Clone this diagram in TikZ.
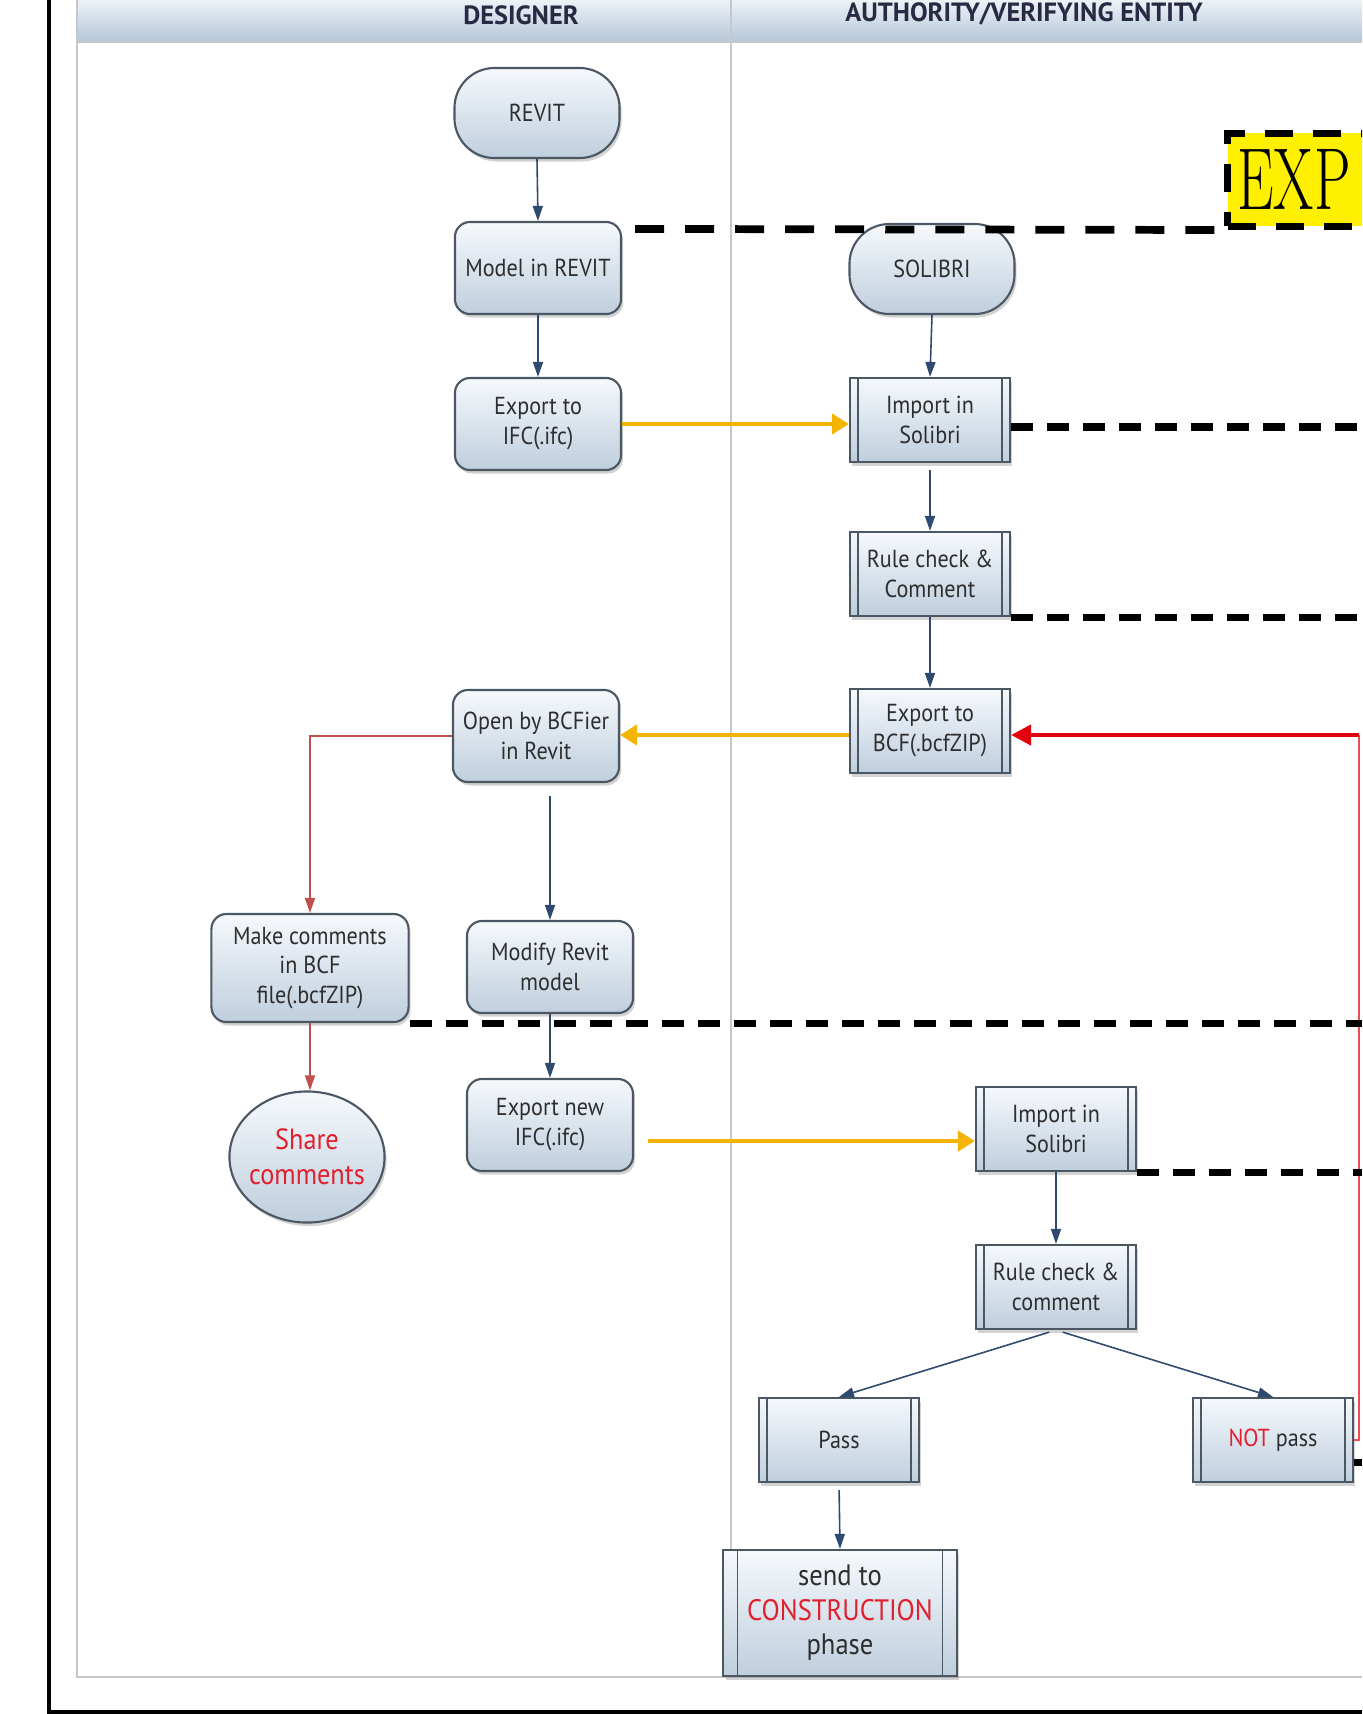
\documentclass[tikz,border=0pt]{standalone}
\usepackage{fontspec}
\usepackage{graphicx}
\newfontfamily\boxfont[FakeStretch=0.9]{PT Sans}
\newfontfamily\headfont{PT Sans}
\usetikzlibrary{arrows.meta,shadows,shapes.geometric,calc}
\definecolor{boxtop}{HTML}{F6F9FC}
\definecolor{boxbot}{HTML}{BFCEDD}
\definecolor{boxline}{HTML}{4B5763}
\definecolor{headtop}{HTML}{EDF2F7}
\definecolor{headbot}{HTML}{B4C6D8}
\definecolor{lanegray}{HTML}{C4C8CC}
\definecolor{navy}{HTML}{2E4A6E}
\definecolor{flowyellow}{HTML}{F4B400}
\definecolor{flowred}{HTML}{E3000F}
\definecolor{softred}{HTML}{C0504D}
\definecolor{textred}{HTML}{E0202E}
\definecolor{textgray}{HTML}{2E2E2E}
\definecolor{expyellow}{HTML}{FFF000}

\begin{document}
\begin{tikzpicture}[x=0.01cm,y=-0.01cm,
    box/.style={draw=boxline,line width=0.6pt,top color=boxtop,bottom color=boxbot,
      drop shadow={shadow xshift=0.6pt,shadow yshift=-1pt,opacity=0.35},
      text=textgray,font=\boxfont\fontsize{7}{8.5}\selectfont,align=center,inner sep=0pt},
    terminal/.style={box,rectangle,rounded corners=0.4cm,minimum width=1.65cm,minimum height=0.9cm},
    process/.style={box,rectangle,rounded corners=0.15cm,minimum width=1.66cm,minimum height=0.92cm},
    predef/.style={box,rectangle,minimum width=1.6cm,minimum height=0.84cm,
      path picture={\draw[boxline,line width=0.5pt]
        ([xshift=#1]path picture bounding box.north west) -- ([xshift=#1]path picture bounding box.south west)
        ([xshift=-#1]path picture bounding box.north east) -- ([xshift=-#1]path picture bounding box.south east);}},
    predef/.default=0.08cm,
    lanehead/.style={text=textgray!90!blue,font=\headfont\bfseries\fontsize{7.5}{9}\selectfont},
    navyarrow/.style={navy,line width=0.45pt,-{Triangle[length=1.5mm,width=1mm]}},
    ifcarrow/.style={flowyellow,line width=1.2pt,-{Triangle[length=1.7mm,width=2mm]}},
    redarrow/.style={flowred,line width=1.3pt,-{Triangle[length=2mm,width=2mm]}},
    commentarrow/.style={softred,line width=0.45pt,-{Triangle[length=1.5mm,width=1mm]}},
    linkline/.style={black,line width=2pt,dash pattern=on 0.22cm off 0.14cm}]

    \useasboundingbox (0,0) rectangle (1362,1714);
    \clip (0,0) rectangle (1362,1714);

    % lanes
    \shade[top color=headtop,bottom color=headbot] (77,0) rectangle (1362,42);
    \draw[lanegray,line width=0.6pt] (77,0) -- (77,1677) -- (1362,1677);
    \draw[lanegray,line width=0.6pt] (77,42) -- (1362,42);
    \draw[lanegray,line width=0.6pt] (731,0) -- (731,1677);
    \draw[black,line width=0.9pt] (49,0) -- (49,1712) -- (1362,1712);
    \node[lanehead] (designer) at (521,15) {DESIGNER};
    \node[lanehead] (authority) at (1024,14) {AUTHORITY/VERIFYING ENTITY};
    \coordinate (rim) at (1362,0);
    \coordinate (turn) at (1359,735);

    \node[terminal] (revit) at (537,113) {REVIT};
    \node[process] (model) at (538,268) {Model in REVIT};
    \node[process] (ifc) at (538,424) {Export to\\IFC(.ifc)};
    \node[terminal] (solibri) at (932,269) {SOLIBRI};
    \node[predef] (import) at (930,420) {Import in\\Solibri};
    \node[predef] (check) at (930,574) {Rule check \&\\Comment};
    \node[predef] (bcf) at (930,731) {Export to\\BCF(.bcfZIP)};
    \node[process] (bcfier) at (536,736) {Open by BCFier\\in Revit};
    \node[process,minimum width=1.97cm,minimum height=1.08cm] (comments) at (310,968) {Make comments\\in BCF\\file(.bcfZIP)};
    \node[process] (modify) at (550,967) {Modify Revit\\model};
    \node[box,ellipse,minimum width=1.55cm,minimum height=1.31cm,inner sep=-0.15cm,text=textred,
      font=\boxfont\fontsize{8.3}{10}\selectfont] (share) at (307,1157) {Share\\comments};
    \node[process] (newifc) at (550,1125) {Export new\\IFC(.ifc)};
    \node[predef] (reimport) at (1056,1129) {Import in\\Solibri};
    \node[predef] (recheck) at (1056,1287) {Rule check \&\\comment};
    \node[predef] (pass) at (839,1440) {Pass};
    \node[predef] (notpass) at (1273,1440) {\textcolor{textred}{NOT} pass};
    \node[predef=0.14cm,minimum width=2.33cm,minimum height=1.26cm,
      font=\boxfont\fontsize{8.4}{9.8}\selectfont] (construction) at (840,1613) {send to\\\textcolor{textred}{CONSTRUCTION}\\phase};

    \node[draw=black,fill=expyellow,line width=2pt,dash pattern=on 0.28cm off 0.2cm,anchor=south west,
      minimum height=0.93cm,text width=2.3cm,align=left,inner xsep=0.1cm,inner ysep=0pt,
      font=\fontsize{25}{25}\selectfont] (exp) at (1224,230) {\scalebox{0.66}[1]{EXP}};

    \draw[navyarrow] (revit.south) -- (model.north);
    \draw[navyarrow] (model.south) -- (ifc.north);
    \draw[navyarrow] (solibri.south) -- (import.north);
    \draw[navyarrow,shorten <=0.07cm] (import.south) -- (check.north);
    \draw[navyarrow] (check.south) -- (bcf.north);
    \draw[navyarrow,shorten <=0.13cm] (bcfier.south -| modify.north) -- (modify.north);
    \draw[navyarrow] (modify.south) -- (newifc.north);
    \draw[navyarrow] (reimport.south) -- (recheck.north);
    \draw[navyarrow,shorten <=0.07cm] (recheck.south) -- (pass.north);
    \draw[navyarrow,shorten <=0.07cm] (recheck.south) -- (notpass.north);
    \draw[navyarrow,shorten <=0.07cm] (pass.south) -- (construction.north);

    \draw[ifcarrow] (ifc.east) -- (ifc.east -| import.west);
    \draw[ifcarrow] (bcf.west |- turn) -- (bcfier.east |- turn);
    \draw[ifcarrow] ($(newifc.east)+(14,16)$) coordinate (ifcstart) -- (ifcstart -| reimport.west);

    \draw[commentarrow] (bcfier.west) -| (comments.north);
    \draw[commentarrow] (comments.south) -- (comments.south |- share.north);

    \draw[flowred!70,line width=0.6pt] (notpass.east) -| (turn);
    \draw[redarrow] (turn) -- (turn -| bcf.east);

    % links to the notes
    \draw[linkline,line width=2.2pt,dash pattern=on 0.29cm off 0.21cm] ($(model.north east)+(13,8)$) -- (exp.south west);
    \draw[linkline] ($(import.east)+(0,7)$) coordinate (importlink) -- (importlink -| rim);
    \draw[linkline] (check.south east) -- (check.south east -| rim);
    \draw[linkline] (comments.south east) -- (comments.south east -| rim);
    \draw[linkline] (reimport.south east) -- (reimport.south east -| rim);
    \draw[linkline] ($(notpass.east)+(0,22)$) coordinate (notlink) -- (notlink -| rim);
\end{tikzpicture}
\end{document}
